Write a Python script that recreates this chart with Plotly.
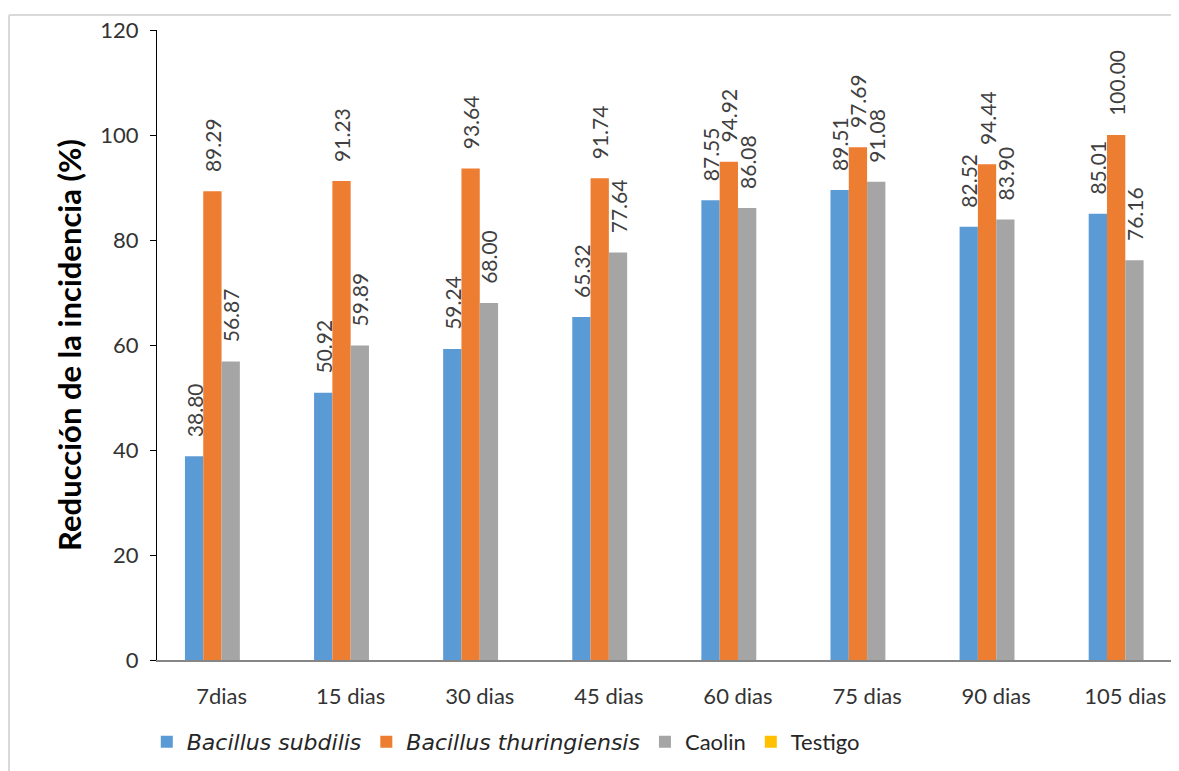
import plotly.graph_objects as go

categories = ["7dias", "15 dias", "30 dias", "45 dias", "60 dias", "75 dias", "90 dias", "105 dias"]
subdilis = [38.80, 50.92, 59.24, 65.32, 87.55, 89.51, 82.52, 85.01]
thuringiensis = [89.29, 91.23, 93.64, 91.74, 94.92, 97.69, 94.44, 100.00]
caolin = [56.87, 59.89, 68.00, 77.64, 86.08, 91.08, 83.90, 76.16]
testigo = [0, 0, 0, 0, 0, 0, 0, 0]

ITAL = '<span style="font-family:DejaVu Sans;font-size:22px"><i>{}</i></span>'
series = [
    (ITAL.format("Bacillus subdilis"), subdilis, "#5B9BD5", True),
    (ITAL.format("Bacillus thuringiensis"), thuringiensis, "#ED7D31", True),
    ("Caolin", caolin, "#A5A5A5", True),
    ("Testigo", testigo, "#FFC000", False),
]

fig = go.Figure()
for name, vals, color, lab in series:
    fig.add_trace(go.Bar(
        x=categories, y=vals, name=name,
        marker=dict(color=color, line=dict(width=0)),
        text=["\u00a0\u00a0\u00a0" + f"{v:.2f}" for v in vals] if lab else None,
        textposition="outside" if lab else "none",
        textangle=-90,
        constraintext="none",
        cliponaxis=False,
        textfont=dict(family="Lato", size=21, color="#404040"),
    ))

# browser body margin of 8px shifts the figure
OFF = 8
W, H = 1179 - OFF, 771 - OFF
L, T = 157 - OFF, 30 - OFF
R = 0
ph = 630
B = H - T - ph
pw = W - L - R

def px_x(x):
    return (x - OFF - L) / pw

def px_y(y):
    return (H - B - (y - OFF)) / ph

fig.update_layout(
    width=W, height=H,
    margin=dict(l=L, r=R, t=T, b=B),
    paper_bgcolor="white", plot_bgcolor="white",
    barmode="group", bargap=0.433, bargroupgap=0,
    font=dict(family="Lato", color="#333333"),
    showlegend=True,
    legend=dict(orientation="h", x=-0.01, xanchor="left", y=-0.13, yanchor="middle",
                font=dict(family="Lato", size=22, color="#262626"),
                itemwidth=30, tracegroupgap=0, traceorder="normal"),
    xaxis=dict(range=[-0.5, 7.416], showgrid=False, showline=True, linecolor="#868686",
               linewidth=2, ticks="", tickfont=dict(size=22, color="#333333"),
               ticklabelstandoff=16, zeroline=False),
    yaxis=dict(range=[0, 120], dtick=20, showgrid=False, showline=True, linecolor="#000000",
               linewidth=1, ticks="outside", ticklen=6, tickcolor="#000000",
               tickfont=dict(size=22, color="#333333"), ticklabelstandoff=7, zeroline=False,
               title=dict(text="<b>Reducción de la incidencia (%)</b>",
                          font=dict(size=31, color="#000000"), standoff=9)),
    shapes=[
        dict(type="line", xref="paper", yref="paper", x0=px_x(9), x1=px_x(1190),
             y0=px_y(15), y1=px_y(15), line=dict(color="#D9D9D9", width=2)),
        dict(type="line", xref="paper", yref="paper", x0=px_x(9), x1=px_x(9),
             y0=px_y(15), y1=px_y(790), line=dict(color="#D9D9D9", width=2)),
    ],
)

fig.write_html("out.html")
